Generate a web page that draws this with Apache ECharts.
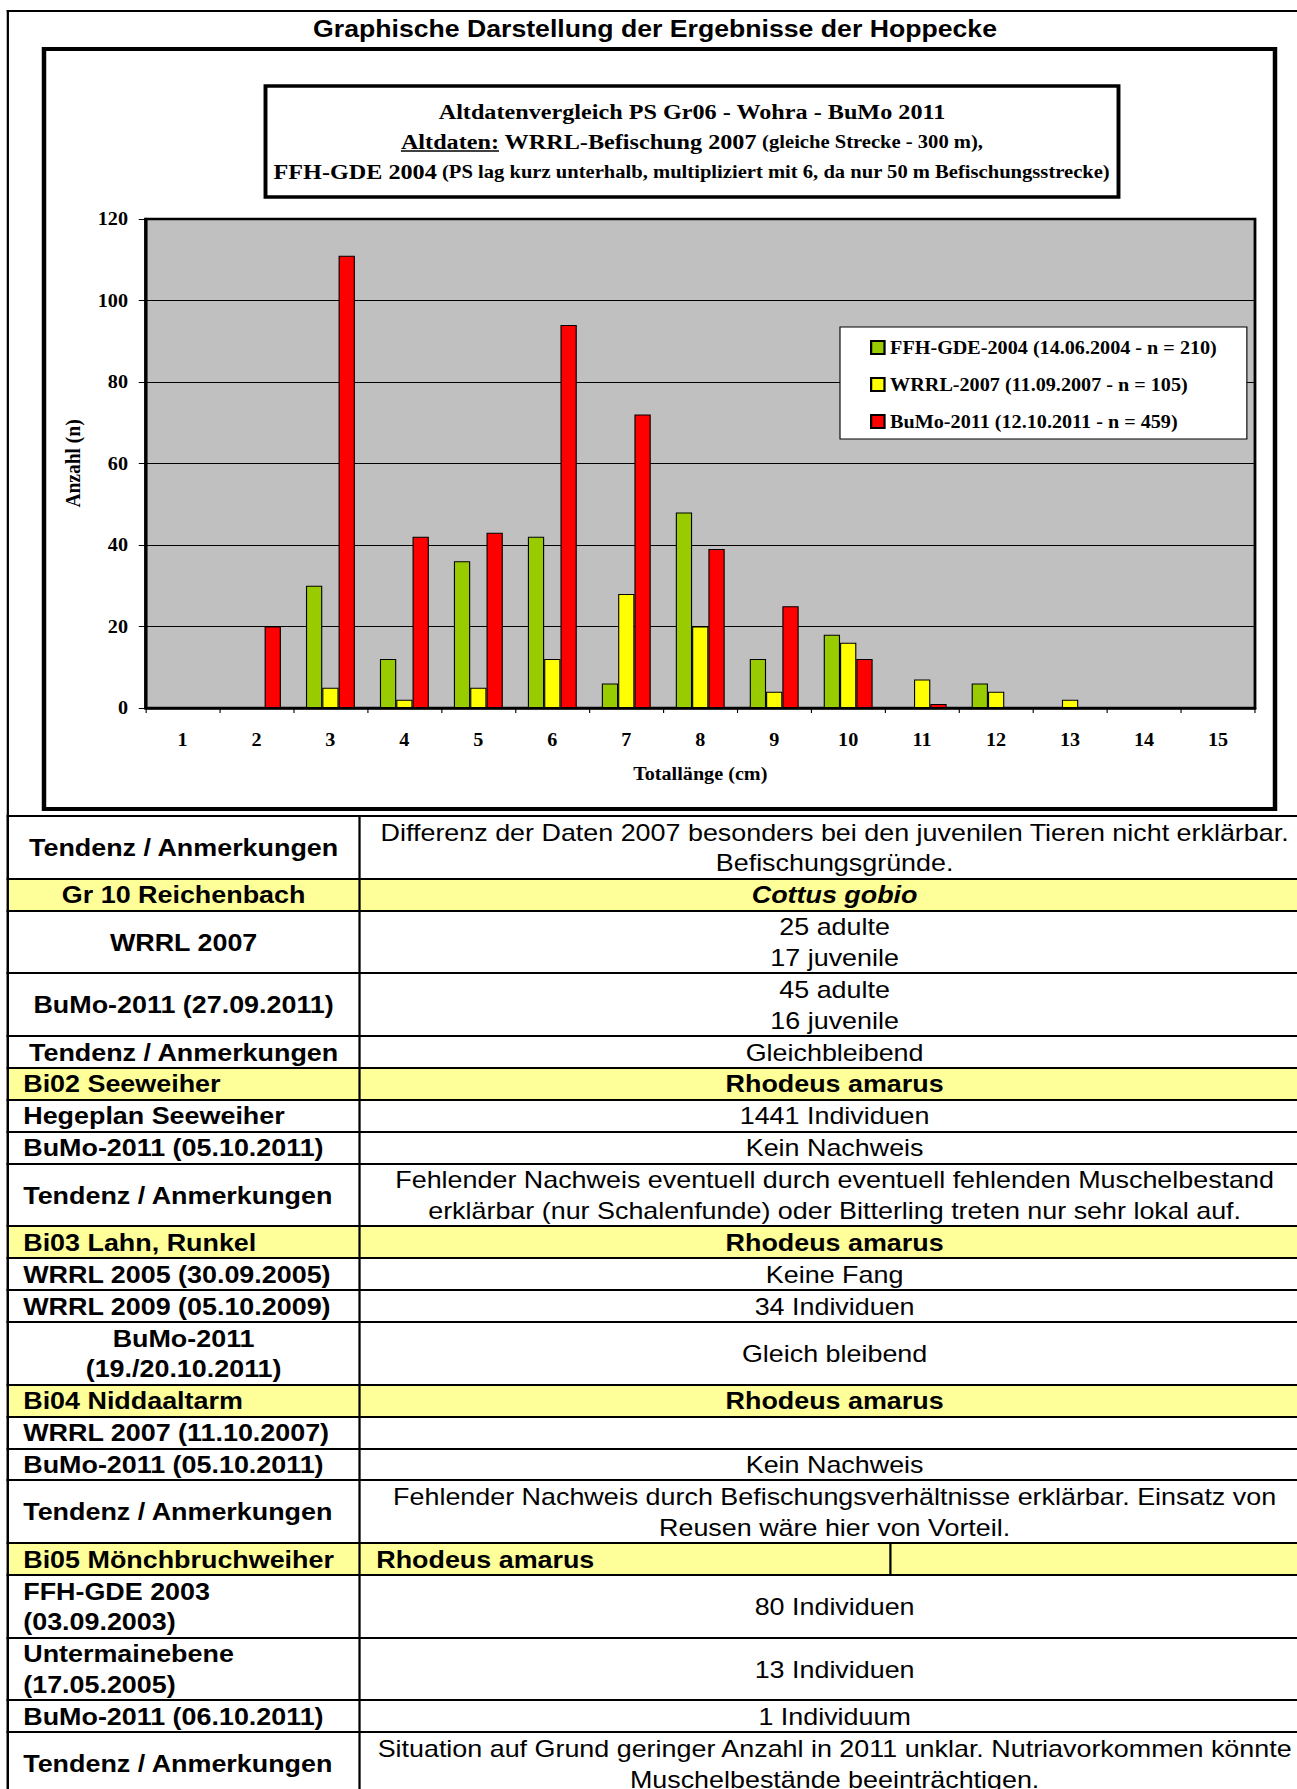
<!DOCTYPE html>
<html><head><meta charset="utf-8">
<script src="https://cdn.jsdelivr.net/npm/echarts@6/dist/echarts.min.js"></script>
<style>
html,body{margin:0;padding:0;background:#fff;overflow:hidden;}
#wrap{position:absolute;left:0;top:0;width:1158px;height:1789px;transform:scaleX(1.12);transform-origin:0 0;overflow:hidden;}
#chart{position:absolute;left:0;top:0;width:1158px;height:815px;}
#frame{position:absolute;border-left:2px solid #000;border-top:2px solid #000;width:2000px;height:2000px;}
.row{position:absolute;border-top:2px solid #000;box-sizing:border-box;font-family:"Liberation Sans",Arial,sans-serif;font-size:24px;line-height:30.8px;color:#000;}
.row.hdr{background:#FFFF99;}
.cell{position:absolute;top:0;bottom:0;display:flex;align-items:center;white-space:pre-line;box-sizing:border-box;}
.lc{font-weight:bold;border-right:2px solid #000;}
.c{justify-content:center;text-align:center;}
.l{justify-content:flex-start;text-align:left;}
</style>
</head><body>
<div id="wrap">
  <div id="frame"></div>
  <div id="chart"></div>
  <div id="table"></div>
</div>
<script>
// ---------- data ----------
const pageTitle = 'Graphische Darstellung der Ergebnisse der Hoppecke';
const chartTitleLine1 = 'Altdatenvergleich PS Gr06 - Wohra - BuMo 2011';
const chartTitleLine2 = ['Altdaten:', ' WRRL-Befischung 2007', ' (gleiche Strecke - 300 m),'];
const chartTitleLine3 = ['FFH-GDE 2004', ' (PS lag kurz unterhalb, multipliziert mit 6, da nur 50 m Befischungsstrecke)'];
const categories = ['1','2','3','4','5','6','7','8','9','10','11','12','13','14','15'];
const seriesNames = ['FFH-GDE-2004 (14.06.2004 - n = 210)', 'WRRL-2007 (11.09.2007 - n = 105)', 'BuMo-2011 (12.10.2011 - n = 459)'];
const ffh2004  = [0, 0, 30, 12, 36, 42, 6, 48, 12, 18, 0, 6, 0, 0, 0];
const wrrl2007 = [0, 0, 5, 2, 5, 12, 28, 20, 4, 16, 7, 4, 2, 0, 0];
const bumo2011 = [0, 20, 111, 42, 43, 94, 72, 39, 25, 12, 1, 0, 0, 0, 0];
const xAxisName = 'Totallänge (cm)';
const yAxisName = 'Anzahl (n)';
const yMin = 0, yMax = 120, yStep = 20;

const tableLeft = [
  'Tendenz / Anmerkungen', 'Gr 10 Reichenbach', 'WRRL 2007', 'BuMo-2011 (27.09.2011)', 'Tendenz / Anmerkungen',
  'Bi02 Seeweiher', 'Hegeplan Seeweiher', 'BuMo-2011 (05.10.2011)', 'Tendenz / Anmerkungen',
  'Bi03 Lahn, Runkel', 'WRRL 2005 (30.09.2005)', 'WRRL 2009 (05.10.2009)', 'BuMo-2011\n(19./20.10.2011)',
  'Bi04 Niddaaltarm', 'WRRL 2007 (11.10.2007)', 'BuMo-2011 (05.10.2011)', 'Tendenz / Anmerkungen',
  'Bi05 Mönchbruchweiher', 'FFH-GDE 2003\n(03.09.2003)', 'Untermainebene\n(17.05.2005)', 'BuMo-2011 (06.10.2011)', 'Tendenz / Anmerkungen'
];
const tableRight = [
  'Differenz der Daten 2007 besonders bei den juvenilen Tieren nicht erklärbar.\nBefischungsgründe.',
  'Cottus gobio', '25 adulte\n17 juvenile', '45 adulte\n16 juvenile', 'Gleichbleibend',
  'Rhodeus amarus', '1441 Individuen', 'Kein Nachweis',
  'Fehlender Nachweis eventuell durch eventuell fehlenden Muschelbestand\nerklärbar (nur Schalenfunde) oder Bitterling treten nur sehr lokal auf.',
  'Rhodeus amarus', 'Keine Fang', '34 Individuen', 'Gleich bleibend',
  'Rhodeus amarus', '', 'Kein Nachweis',
  'Fehlender Nachweis durch Befischungsverhältnisse erklärbar. Einsatz von\nReusen wäre hier von Vorteil.',
  'Rhodeus amarus', '80 Individuen', '13 Individuen', '1 Individuum',
  'Situation auf Grund geringer Anzahl in 2011 unklar. Nutriavorkommen könnte\nMuschelbestände beeinträchtigen.'
];
// ---------- layout / style (not data) ----------
const rowKind = ['n','h','n','n','n','h','n','n','n','h','n','n','n','h','n','n','n','h','n','n','n','n'];
const leftAlign = ['c','c','c','c','c','l','l','l','l','l','l','l','c','l','l','l','l','l','l','l','l','l'];
const rightStyle = ['','bi','','','','b','','','','b','','','','b','','','','bL','','','',''];

const S = 1.12;
const fx = x => x / S;
const W0 = 1297 / S;

// frame
const fr = document.getElementById('frame');
fr.style.left = fx(7) + 'px'; fr.style.top = '10px';

// ---------- table ----------
const tbl = document.getElementById('table');
let y = 815;
const xL = 7, xD = 358, xR = 1309;
for (let i = 0; i < tableLeft.length; i++) {
  const lines = Math.max(tableLeft[i].split('\n').length, tableRight[i].split('\n').length);
  const h = lines > 1 ? 62.7 : 31.9;
  const row = document.createElement('div');
  row.className = 'row' + (rowKind[i] === 'h' ? ' hdr' : '');
  row.style.left = fx(xL) + 'px'; row.style.width = fx(xR - xL) + 'px';
  row.style.top = y + 'px'; row.style.height = (h + 2) + 'px';
  row.style.borderLeft = '2px solid #000';
  const lc = document.createElement('div');
  lc.className = 'cell lc ' + leftAlign[i];
  lc.style.left = '0px'; lc.style.width = fx(xD - xL) + 'px';
  if (leftAlign[i] === 'l') lc.style.paddingLeft = fx(14) + 'px';
  lc.textContent = tableLeft[i];
  row.appendChild(lc);
  const rc = document.createElement('div');
  const rs = rightStyle[i];
  rc.className = 'cell ' + (rs === 'bL' ? 'l' : 'c');
  rc.style.left = fx(xD - xL) + 'px'; rc.style.right = '0px';
  if (rs.indexOf('b') === 0) rc.style.fontWeight = 'bold';
  if (rs === 'bi') rc.style.fontStyle = 'italic';
  if (rs === 'bL') {
    rc.style.paddingLeft = fx(16) + 'px';
    const dv = document.createElement('div');
    dv.style.cssText = 'position:absolute;top:0;bottom:0;width:0;border-left:2px solid #000;left:' + fx(887 - xD) + 'px';
    rc.appendChild(dv);
  }
  const sp = document.createElement('span');
  sp.textContent = tableRight[i];
  rc.appendChild(sp);
  row.appendChild(rc);
  tbl.appendChild(row);
  y += h;
}

// ---------- chart ----------
const cv = document.createElement('canvas').getContext('2d');
function tw(t, f) { cv.font = f; return cv.measureText(t).width; }
const BIG = 'bold 21.6px "Liberation Serif"';
const SMALL = 'bold 18.4px "Liberation Serif"';
const cx = fx(692);
const graphics = [];
graphics.push({ type:'rect', z:100, shape:{ x:fx(44), y:49, width:fx(1275-44), height:760 }, style:{ fill:'none', stroke:'#000', lineWidth:4 } });
graphics.push({ type:'rect', z:100, shape:{ x:fx(265.5), y:86, width:fx(1118.5-265.5), height:111 }, style:{ fill:'#fff', stroke:'#000', lineWidth:3.5 } });
graphics.push({ type:'text', z:101, x:fx(655), y:28.5, style:{ text:pageTitle, font:'bold 23.8px "Liberation Sans"', fill:'#000', align:'center', verticalAlign:'middle' } });
graphics.push({ type:'text', z:101, x:cx, y:112, style:{ text:chartTitleLine1, font:BIG, fill:'#000', align:'center', verticalAlign:'middle' } });
function addLine(parts, fonts, yy, underlineFirst) {
  const widths = parts.map((p, k) => tw(p, fonts[k]));
  const total = widths.reduce((a, b) => a + b, 0);
  let x0 = cx - total / 2;
  parts.forEach((p, k) => {
    graphics.push({ type:'text', z:101, x:x0, y:yy, style:{ text:p, font:fonts[k], fill:'#000', align:'left', verticalAlign:'middle' } });
    if (k === 0 && underlineFirst) {
      graphics.push({ type:'line', z:101, shape:{ x1:x0, y1:yy + 9.5, x2:x0 + widths[0], y2:yy + 9.5 }, style:{ stroke:'#000', lineWidth:1.5 } });
    }
    x0 += widths[k];
  });
}
addLine(chartTitleLine2, [BIG, BIG, SMALL], 141.5, true);
addLine(chartTitleLine3, [BIG, SMALL], 171.5, false);

const serifBold = { fontFamily:'Liberation Serif', fontWeight:'bold', color:'#000', fontSize:18 };
const colors = ['#99CC00', '#FFFF00', '#FF0000'];
const values = [ffh2004, wrrl2007, bumo2011];

const chart = echarts.init(document.getElementById('chart'), null, { renderer:'svg', width:W0, height:815 });
chart.setOption({
  animation:false,
  grid:{ left:fx(145.5), top:219, width:fx(1255 - 145.5), height:489, show:true, backgroundColor:'#C0C0C0', borderColor:'#000', borderWidth:2.5 },
  xAxis:{
    type:'category', data:categories, boundaryGap:true,
    axisLine:{ show:true, lineStyle:{ color:'#000', width:2.5 } },
    axisTick:{ show:true, alignWithLabel:false, length:5, lineStyle:{ color:'#000', width:1 } },
    axisLabel:Object.assign({ margin:23, interval:0 }, serifBold),
    splitLine:{ show:false },
    name:xAxisName, nameLocation:'middle', nameGap:57,
    nameTextStyle:Object.assign({}, serifBold)
  },
  yAxis:{
    type:'value', min:yMin, max:yMax, interval:yStep,
    axisLine:{ show:true, lineStyle:{ color:'#000', width:2.5 } },
    axisTick:{ show:true, length:6, lineStyle:{ color:'#000', width:1 } },
    axisLabel:Object.assign({ margin:fx(17.5) }, serifBold),
    splitLine:{ show:true, lineStyle:{ color:'#000', width:1 } },
    name:yAxisName, nameLocation:'middle', nameGap:fx(62), nameRotate:90,
    nameTextStyle:Object.assign({}, serifBold, { fontSize:19.5 })
  },
  legend:{
    show:true, orient:'vertical', left:fx(840), top:327,
    itemWidth:fx(13.4), itemHeight:13, itemGap:19,
    padding:[11.5, fx(30), 8.5, fx(30)],
    backgroundColor:'#fff', borderColor:'#000', borderWidth:1,
    icon:'rect',
    textStyle:Object.assign({ lineHeight:18 }, serifBold),
    data:seriesNames
  },
  series:values.map((v, k) => ({
    type:'bar', name:seriesNames[k], data:v,
    barWidth:fx(16.3), barGap:'0%',
    itemStyle:{ color:colors[k], borderColor:'#000', borderWidth:1 }
  })),
  graphic:graphics
});
</script>
</body></html>
